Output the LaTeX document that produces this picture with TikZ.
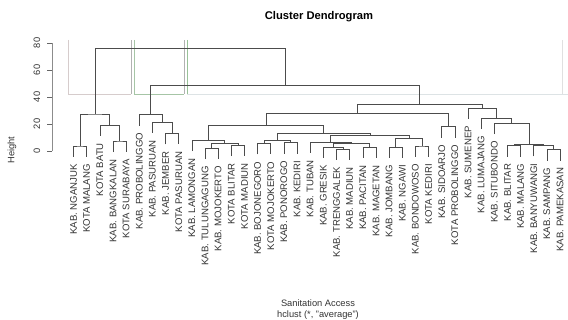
\documentclass[tikz,border=0pt]{standalone}
\usepackage{fontspec}
\setmainfont{Liberation Sans}
\usetikzlibrary{calc}
\def\hang{11}
\newcommand{\leaf}[4]{\coordinate (#1) at ({60.35+13.15*#2},{169+1.35*#3-\hang});
	\node[leaflabel] (t#1) at ([yshift=-7pt]#1) {#4};}
\newcommand{\merge}[4]{\path let \p1=(#2), \p2=(#3) in ({(\x1+\x2)/2},{(169+1.35*#4)*1pt}) coordinate (#1);
	\draw[branch] (#2) |- (#1) -| (#3);}

\begin{document}
\begin{tikzpicture}[x=1pt,y=1pt,
		branch/.style={draw=black!70,line width=0.55pt},
		leaflabel/.style={rotate=90,anchor=east,inner sep=0pt,text=black!80,font=\fontsize{9.6}{10}\selectfont},
		ticklabel/.style={rotate=90,inner sep=0pt,text=black!80,font=\fontsize{9.3}{10}\selectfont},
		cutline/.style={line width=0.6pt}]
				\useasboundingbox (0,0) rectangle (568,320);
				
				\node[font=\bfseries\fontsize{11.2}{12}\selectfont] (title) at (319,303) {Cluster Dendrogram};
				\node[font=\fontsize{9.3}{10}\selectfont,text=black!80] (xlab) at (318,17) {Sanitation Access};
				\node[font=\fontsize{9.3}{10}\selectfont,text=black!80] (sub) at (318,5) {hclust (*, "average")};
				\node[ticklabel] (ylab) at (12,170) {Height};
				
				\draw[black!45] (52,169) -- (52,277);
				\foreach \v in {0,20,40,60,80} {
					\draw[black!60] (52,{169+1.35*\v}) -- (47,{169+1.35*\v});
					\node[ticklabel] (tick\v) at (37,{169+1.35*\v}) {\v};
				}
				
				\draw[cutline,red!20!black!20] (68,280) -- (68,226) -- (131,226);
				\draw[cutline,black!30] (131,226) -- (131,280);
				\draw[cutline,green!35!black!35] (134,280) -- (134,226) -- (184,226);
				\draw[cutline,black!30] (184,226) -- (184,280);
				\draw[cutline,green!40!black!40] (187,280) -- (187,226);
				\draw[cutline,cyan!25!black!15] (187,226) -- (568,226);
				\draw[cutline,black!12] (562,280) -- (562,226);
				
				\leaf{l1}{1}{3.7}{KAB. NGANJUK}
				\leaf{l2}{2}{3.7}{KOTA MALANG}
				\leaf{l3}{3}{19.3}{KOTA BATU}
				\leaf{l4}{4}{7.4}{KAB. BANGKALAN}
				\leaf{l5}{5}{7.4}{KOTA SURABAYA}
				\leaf{l6}{6}{27}{KAB. PROBOLINGGO}
				\leaf{l7}{7}{21.5}{KAB. PASURUAN}
				\leaf{l8}{8}{13}{KAB. JEMBER}
				\leaf{l9}{9}{13}{KOTA PASURUAN}
				\leaf{l10}{10}{8.1}{KAB. LAMONGAN}
				\leaf{l11}{11}{2.2}{KAB. TULUNGAGUNG}
				\leaf{l12}{12}{2.2}{KAB. MOJOKERTO}
				\leaf{l13}{13}{4.4}{KOTA BLITAR}
				\leaf{l14}{14}{4.4}{KOTA MADIUN}
				\leaf{l15}{15}{5.6}{KAB. BOJONEGORO}
				\leaf{l16}{16}{5.6}{KOTA MOJOKERTO}
				\leaf{l17}{17}{6.2}{KAB. PONOROGO}
				\leaf{l18}{18}{6.2}{KAB. KEDIRI}
				\leaf{l19}{19}{6.7}{KAB. TUBAN}
				\leaf{l20}{20}{3}{KAB. GRESIK}
				\leaf{l21}{21}{1.5}{KAB. TRENGGALEK}
				\leaf{l22}{22}{1.5}{KAB. MADIUN}
				\leaf{l23}{23}{3}{KAB. PACITAN}
				\leaf{l24}{24}{3}{KAB. MAGETAN}
				\leaf{l25}{25}{3}{KAB. JOMBANG}
				\leaf{l26}{26}{3}{KAB. NGAWI}
				\leaf{l27}{27}{3.7}{KAB. BONDOWOSO}
				\leaf{l28}{28}{3.7}{KOTA KEDIRI}
				\leaf{l29}{29}{18}{KAB. SIDOARJO}
				\leaf{l30}{30}{18}{KOTA PROBOLINGGO}
				\leaf{l31}{31}{31.9}{KAB. SUMENEP}
				\leaf{l32}{32}{24.4}{KAB. LUMAJANG}
				\leaf{l33}{33}{20.7}{KAB. SITUBONDO}
				\leaf{l34}{34}{4}{KAB. BLITAR}
				\leaf{l35}{35}{4}{KAB. MALANG}
				\leaf{l36}{36}{4.2}{KAB. BANYUWANGI}
				\leaf{l37}{37}{1}{KAB. SAMPANG}
				\leaf{l38}{38}{1}{KAB. PAMEKASAN}
				
				\merge{m12}{l1}{l2}{3.7}
				\merge{m45}{l4}{l5}{7.4}
				\merge{m345}{l3}{m45}{19.3}
				\merge{mA}{m12}{m345}{27.4}
				
				\merge{m89}{l8}{l9}{13}
				\merge{m789}{l7}{m89}{21.5}
				\merge{mB}{l6}{m789}{27}
				
				\merge{m1112}{l11}{l12}{2.2}
				\merge{m1314}{l13}{l14}{4.4}
				\merge{m1114}{m1112}{m1314}{5.9}
				\merge{m1014}{l10}{m1114}{8.1}
				\merge{m1516}{l15}{l16}{5.6}
				\merge{m1718}{l17}{l18}{6.2}
				\merge{m1518}{m1516}{m1718}{8.1}
				\merge{m2122}{l21}{l22}{1.5}
				\merge{m2022}{l20}{m2122}{3}
				\merge{m2324}{l23}{l24}{3}
				\merge{m2024}{m2022}{m2324}{5.5}
				\merge{m1924}{l19}{m2024}{6.7}
				\merge{m2526}{l25}{l26}{3}
				\merge{m2728}{l27}{l28}{3.7}
				\merge{m2528}{m2526}{m2728}{9.6}
				\merge{m1928}{m1924}{m2528}{12}
				\merge{m1528}{m1518}{m1928}{13.3}
				\merge{m1028}{m1014}{m1528}{19.3}
				\merge{m2930}{l29}{l30}{18}
				\merge{m1030}{m1028}{m2930}{28.1}
				\merge{m3738}{l37}{l38}{1}
				\merge{m3638}{l36}{m3738}{4.2}
				\merge{m3435}{l34}{l35}{4}
				\merge{m3438}{m3435}{m3638}{5.2}
				\merge{m3338}{l33}{m3438}{20.7}
				\merge{m3238}{l32}{m3338}{24.4}
				\merge{m3138}{l31}{m3238}{31.9}
				\merge{mC}{m1030}{m3138}{34.8}
				
				\merge{mBC}{mB}{mC}{48.9}
				\merge{mAll}{mA}{mBC}{76.3}
			\end{tikzpicture}
\end{document}
